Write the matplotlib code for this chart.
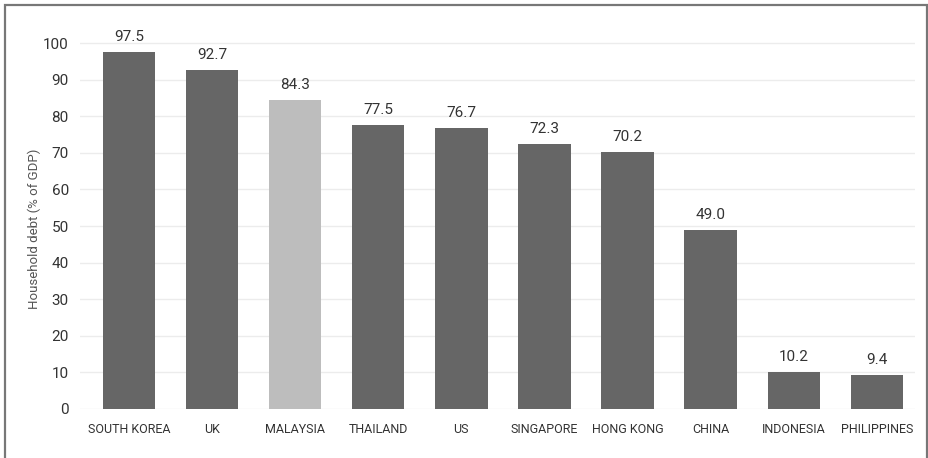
import matplotlib.pyplot as plt
from matplotlib.patches import Rectangle

countries = ['SOUTH KOREA', 'UK', 'MALAYSIA', 'THAILAND', 'US', 'SINGAPORE',
             'HONG KONG', 'CHINA', 'INDONESIA', 'PHILIPPINES']
debt = [97.5, 92.7, 84.3, 77.5, 76.7, 72.3, 70.2, 49.0, 10.2, 9.4]
highlight = 'MALAYSIA'

plt.rcParams['font.family'] = ['Roboto', 'DejaVu Sans']

fig = plt.figure(figsize=(9.29, 4.58), dpi=100)
ax = fig.add_axes([0.086, 0.107, 0.899, 0.839])

colors = ['#bdbdbd' if c == highlight else '#666666' for c in countries]
x = range(len(countries))
bars = ax.bar(x, debt, width=0.63, color=colors, zorder=2)

for b, v in zip(bars, debt):
    ax.text(b.get_x() + b.get_width() / 2, v + 2.2, f'{v:.1f}',
            ha='center', va='bottom', fontsize=11, color='#333333')

ax.set_xlim(-0.59, 9.46)
ax.set_ylim(0, 105)
ax.set_yticks(range(0, 101, 10))
ax.set_xticks(list(x))
ax.set_xticklabels(countries, fontsize=9, color='#333333')
ax.tick_params(axis='y', labelsize=11, labelcolor='#333333', length=0, pad=8)
ax.tick_params(axis='x', length=0, pad=10)
ax.grid(axis='y', color='#ececec', linewidth=1, zorder=0)
for s in ax.spines.values():
    s.set_visible(False)
ax.set_ylabel('Household debt (% of GDP)', fontsize=9.5, color='#555555')
ax.yaxis.set_label_coords(-0.046, 0.47)

# outer frame
fig.patches.append(Rectangle((0.0055, -0.02), 0.992, 1.008, transform=fig.transFigure,
                             fill=False, edgecolor='#777777', linewidth=1.6))

fig.savefig('out.png', dpi=100)
